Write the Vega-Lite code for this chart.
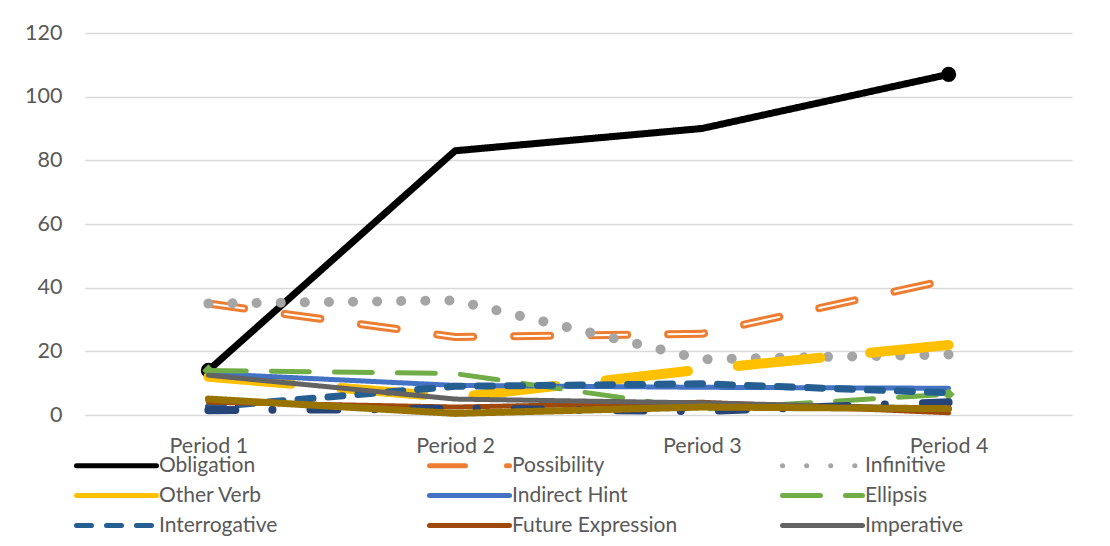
{
  "$schema": "https://vega.github.io/schema/vega-lite/v6.json",
  "width": 987,
  "height": 382,
  "autosize": "none",
  "padding": {"left": 85, "top": 33, "right": 38, "bottom": 131},
  "background": "white",
  "config": {
    "view": {"stroke": null},
    "font": "Lato",
    "axis": {"labelFont": "Lato", "labelFontSize": 21.5, "labelColor": "#595959"},
    "legend": {"labelFont": "Lato", "labelFontSize": 21, "labelColor": "#595959"}
  },
  "data": {
    "values": [
      {"period": "Period 1", "series": "Obligation", "value": 14},
      {"period": "Period 2", "series": "Obligation", "value": 83},
      {"period": "Period 3", "series": "Obligation", "value": 90},
      {"period": "Period 4", "series": "Obligation", "value": 107},
      {"period": "Period 1", "series": "Possibility", "value": 35},
      {"period": "Period 2", "series": "Possibility", "value": 24.5},
      {"period": "Period 3", "series": "Possibility", "value": 25.5},
      {"period": "Period 4", "series": "Possibility", "value": 42.5},
      {"period": "Period 1", "series": "Infinitive", "value": 35},
      {"period": "Period 2", "series": "Infinitive", "value": 36},
      {"period": "Period 3", "series": "Infinitive", "value": 17.5},
      {"period": "Period 4", "series": "Infinitive", "value": 19},
      {"period": "Period 1", "series": "Other Verb", "value": 12},
      {"period": "Period 2", "series": "Other Verb", "value": 5.5},
      {"period": "Period 3", "series": "Other Verb", "value": 14.3},
      {"period": "Period 4", "series": "Other Verb", "value": 22},
      {"period": "Period 1", "series": "Indirect Hint", "value": 13},
      {"period": "Period 2", "series": "Indirect Hint", "value": 9.3},
      {"period": "Period 3", "series": "Indirect Hint", "value": 8.7},
      {"period": "Period 4", "series": "Indirect Hint", "value": 8.4},
      {"period": "Period 1", "series": "Ellipsis", "value": 14},
      {"period": "Period 2", "series": "Ellipsis", "value": 13},
      {"period": "Period 3", "series": "Ellipsis", "value": 1.8},
      {"period": "Period 4", "series": "Ellipsis", "value": 6.5},
      {"period": "Period 1", "series": "Interrogative", "value": 2.5},
      {"period": "Period 2", "series": "Interrogative", "value": 9},
      {"period": "Period 3", "series": "Interrogative", "value": 9.8},
      {"period": "Period 4", "series": "Interrogative", "value": 7},
      {"period": "Period 1", "series": "Future Expression", "value": 4},
      {"period": "Period 2", "series": "Future Expression", "value": 2.5},
      {"period": "Period 3", "series": "Future Expression", "value": 4},
      {"period": "Period 4", "series": "Future Expression", "value": 0.7},
      {"period": "Period 1", "series": "Imperative", "value": 12.5},
      {"period": "Period 2", "series": "Imperative", "value": 5},
      {"period": "Period 3", "series": "Imperative", "value": 3.8},
      {"period": "Period 4", "series": "Imperative", "value": 2},
      {"period": "Period 1", "series": "Series 10", "value": 1.5},
      {"period": "Period 2", "series": "Series 10", "value": 2},
      {"period": "Period 3", "series": "Series 10", "value": 1.2},
      {"period": "Period 4", "series": "Series 10", "value": 4},
      {"period": "Period 1", "series": "Series 11", "value": 5},
      {"period": "Period 2", "series": "Series 11", "value": 0.5},
      {"period": "Period 3", "series": "Series 11", "value": 2.5},
      {"period": "Period 4", "series": "Series 11", "value": 2}
    ]
  },
  "encoding": {
    "x": {
      "field": "period",
      "type": "ordinal",
      "scale": {"type": "point", "padding": 0.5},
      "axis": {"title": null, "labelAngle": 0, "domain": false, "ticks": false, "labelPadding": 20, "grid": false}
    },
    "y": {
      "field": "value",
      "type": "quantitative",
      "scale": {"domain": [0, 120], "nice": false},
      "axis": {
        "title": null,
        "values": [0, 20, 40, 60, 80, 100, 120],
        "domain": false,
        "ticks": false,
        "labelPadding": 23,
        "gridColor": "#D9D9D9",
        "gridWidth": 1.3
      }
    },
    "color": {
      "field": "series",
      "type": "nominal",
      "scale": {
        "domain": ["Obligation", "Possibility", "Infinitive", "Other Verb", "Indirect Hint", "Ellipsis", "Interrogative", "Future Expression", "Imperative", "Series 10", "Series 11"],
        "range": ["#000000", "#ED7D31", "#A5A5A5", "#FFC000", "#4472C4", "#70AD47", "#255E91", "#9E480E", "#636363", "#264478", "#997300"]
      },
      "legend": {
        "title": null,
        "orient": "none",
        "direction": "horizontal",
        "legendX": 19,
        "legendY": 420,
        "columns": 3,
        "gridAlign": "all",
        "columnPadding": 94,
        "rowPadding": 7,
        "padding": 0,
        "symbolType": "M-4,0H4",
        "symbolSize": 400,
        "symbolStrokeWidth": 5,
        "labelOffset": 30,
        "labelLimit": 400,
        "values": ["Obligation", "Possibility", "Infinitive", "Other Verb", "Indirect Hint", "Ellipsis", "Interrogative", "Future Expression", "Imperative"],
        "encoding": {"symbols": {"strokeCap": {"value": "round"}}}
      }
    },
    "strokeDash": {
      "field": "series",
      "type": "nominal",
      "scale": {
        "domain": ["Obligation", "Possibility", "Infinitive", "Other Verb", "Indirect Hint", "Ellipsis", "Interrogative", "Future Expression", "Imperative", "Series 10", "Series 11"],
        "range": [[1, 0], [36, 41], [0.1, 24], [83, 50], [1, 0], [38, 25], [15, 15], [1, 0], [1, 0], [27, 37, 0.1, 38], [1, 0]]
      },
      "legend": {
        "title": null,
        "orient": "none",
        "direction": "horizontal",
        "legendX": 19,
        "legendY": 420,
        "columns": 3,
        "gridAlign": "all",
        "columnPadding": 94,
        "rowPadding": 7,
        "padding": 0,
        "symbolType": "M-4,0H4",
        "symbolSize": 400,
        "symbolStrokeWidth": 5,
        "labelOffset": 30,
        "labelLimit": 400,
        "values": ["Obligation", "Possibility", "Infinitive", "Other Verb", "Indirect Hint", "Ellipsis", "Interrogative", "Future Expression", "Imperative"],
        "encoding": {"symbols": {"strokeCap": {"value": "round"}}}
      }
    }
  },
  "layer": [
    {
      "transform": [{"filter": "datum.series === 'Obligation'"}],
      "mark": {"type": "line", "strokeWidth": 7, "strokeJoin": "round", "strokeCap": "round"}
    },
    {
      "transform": [{"filter": "datum.series === 'Obligation' && (datum.period === 'Period 1' || datum.period === 'Period 4')"}],
      "mark": {"type": "point", "shape": "circle", "filled": true, "size": 230, "opacity": 1, "strokeWidth": 0},
      "encoding": {"color": {"value": "#000000"}, "strokeDash": {"value": [1, 0]}}
    },
    {
      "transform": [{"filter": "datum.series === 'Possibility'"}],
      "mark": {"type": "line", "strokeWidth": 8, "strokeJoin": "round", "strokeCap": "round"}
    },
    {
      "transform": [{"filter": "datum.series === 'Possibility'"}],
      "mark": {"type": "line", "strokeWidth": 2, "strokeJoin": "round", "strokeCap": "round"},
      "encoding": {"color": {"value": "#FFFFFF"}, "strokeDash": {"value": [36, 41]}}
    },
    {
      "transform": [{"filter": "datum.series === 'Infinitive'"}],
      "mark": {"type": "line", "strokeWidth": 10, "strokeJoin": "round", "strokeCap": "round"}
    },
    {
      "transform": [{"filter": "datum.series === 'Other Verb'"}],
      "mark": {"type": "line", "strokeWidth": 10, "strokeJoin": "round", "strokeCap": "round"}
    },
    {
      "transform": [{"filter": "datum.series === 'Indirect Hint'"}],
      "mark": {"type": "line", "strokeWidth": 5, "strokeJoin": "round", "strokeCap": "round"}
    },
    {
      "transform": [{"filter": "datum.series === 'Ellipsis'"}],
      "mark": {"type": "line", "strokeWidth": 5, "strokeJoin": "round", "strokeCap": "round"}
    },
    {
      "transform": [{"filter": "datum.series === 'Ellipsis' && (datum.period === 'Period 1' || datum.period === 'Period 4')"}],
      "mark": {"type": "point", "shape": "diamond", "filled": true, "size": 150, "opacity": 1, "strokeWidth": 0},
      "encoding": {"color": {"value": "#70AD47"}, "strokeDash": {"value": [1, 0]}}
    },
    {
      "transform": [{"filter": "datum.series === 'Interrogative'"}],
      "mark": {"type": "line", "strokeWidth": 7, "strokeJoin": "round", "strokeCap": "round"}
    },
    {
      "transform": [{"filter": "datum.series === 'Future Expression'"}],
      "mark": {"type": "line", "strokeWidth": 5, "strokeJoin": "round", "strokeCap": "round"}
    },
    {
      "transform": [{"filter": "datum.series === 'Imperative'"}],
      "mark": {"type": "line", "strokeWidth": 5, "strokeJoin": "round", "strokeCap": "round"}
    },
    {
      "transform": [{"filter": "datum.series === 'Series 10'"}],
      "mark": {"type": "line", "strokeWidth": 8, "strokeJoin": "round", "strokeCap": "round"}
    },
    {
      "transform": [{"filter": "datum.series === 'Series 11'"}],
      "mark": {"type": "line", "strokeWidth": 7, "strokeJoin": "round", "strokeCap": "round"}
    }
  ]
}
